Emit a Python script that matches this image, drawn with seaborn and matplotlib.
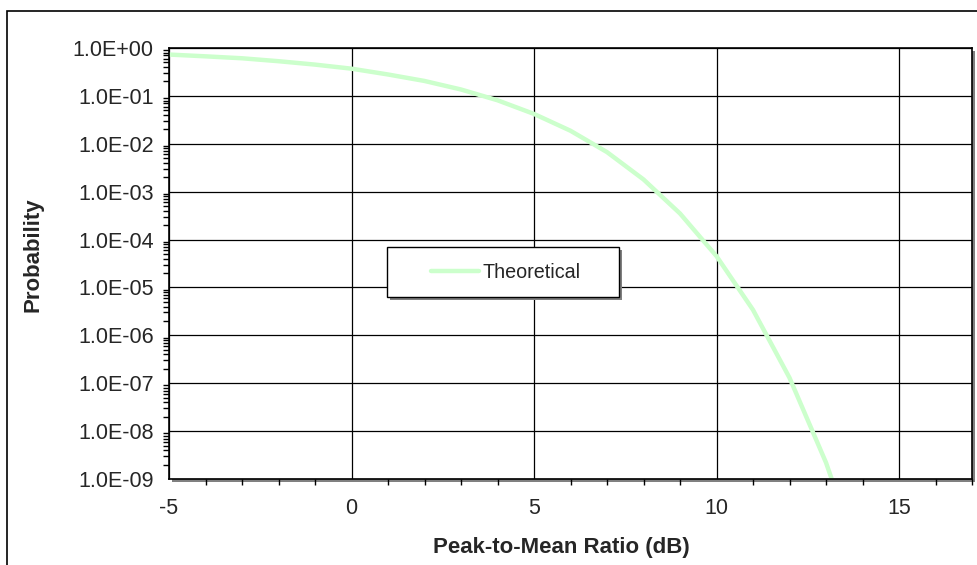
import numpy as np
import pandas as pd
import matplotlib
matplotlib.use("Agg")
import matplotlib.pyplot as plt
import matplotlib.ticker as mticker
from matplotlib.patches import Rectangle
import seaborn as sns

# values (piecewise linear between integer dB points)
ratio_db = [-5, -4, -3, -2, -1, 0, 1, 2, 3, 4, 5, 6, 7, 8, 9, 10, 11, 12, 13, 14]
probability = [0.73, 0.67, 0.61, 0.53, 0.45, 0.37, 0.28, 0.205, 0.136, 0.081,
               0.042, 0.0187, 0.0067, 0.0018, 3.5e-4, 4.5e-5, 3.4e-6, 1.3e-7,
               2.2e-9, 1.4e-11]
series_name = "Theoretical"

df = pd.DataFrame({"Ratio": ratio_db, "Probability": probability})

sns.set_style("white")
plt.rcParams['font.family'] = ['Liberation Sans', 'DejaVu Sans']
plt.rcParams['axes.unicode_minus'] = False

W, H = 977, 565
fig = plt.figure(figsize=(W / 100, H / 100), dpi=100)

def px_box(x0, y0, x1, y1):
    # pixel box (top-left origin) -> figure fraction [left, bottom, width, height]
    return [x0 / W, 1 - y1 / H, (x1 - x0) / W, (y1 - y0) / H]

# outer chart border
fig.patches.append(Rectangle((7 / W, -0.05), 1.1, 1 - 11 / H + 0.05, transform=fig.transFigure,
                             fill=False, edgecolor='black', linewidth=1.2, zorder=0))

ax_l, ax_t, ax_r, ax_b = 169, 48, 972, 479
# plot-area shadow
sb = px_box(ax_l + 3, ax_t + 3, ax_r + 3, ax_b + 3)
fig.patches.append(Rectangle((sb[0], sb[1]), sb[2], sb[3], transform=fig.transFigure,
                             facecolor='#808080', edgecolor='none', zorder=0.5))

ax = fig.add_axes(px_box(ax_l, ax_t, ax_r, ax_b))
ax.set_zorder(1)
ax.set_facecolor('white')

sns.lineplot(data=df, x="Ratio", y="Probability", ax=ax, color='#ccffcc',
             linewidth=3.2, label=series_name, legend=False)

ax.set_yscale('log')
ax.set_ylim(1e-9, 1)
ax.set_xlim(-5, 17)
ax.xaxis.set_major_locator(mticker.MultipleLocator(5))
ax.xaxis.set_minor_locator(mticker.MultipleLocator(1))
ax.yaxis.set_major_locator(mticker.LogLocator(base=10, numticks=20))
ax.yaxis.set_minor_locator(mticker.LogLocator(base=10, subs=np.arange(2, 10), numticks=20))
ax.yaxis.set_minor_formatter(mticker.NullFormatter())
ax.yaxis.set_major_formatter(mticker.FuncFormatter(lambda v, p: f"{v:.1E}"))

ax.grid(True, which='major', color='black', linewidth=0.9)
ax.set_axisbelow(True)
ax.tick_params(which='major', direction='out', length=5, width=1, color='black',
               labelsize=15.5)
ax.tick_params(which='minor', direction='out', length=4, width=1, color='black',
               bottom=True, left=True)
ax.tick_params(axis='x', pad=9)
ax.tick_params(axis='y', pad=6)
for s in ax.spines.values():
    s.set_color('black')
    s.set_linewidth(1.2)

ax.set_xlabel("")
ax.set_ylabel("")
fig.text(561 / W, 1 - 548 / H, "Peak-to-Mean Ratio (dB)", ha='center', va='center',
         fontsize=16, fontweight='bold')
fig.text(33 / W, 1 - 255 / H, "Probability", ha='center', va='center', rotation=90,
         fontsize=16, fontweight='bold')

# legend box with shadow
lb = px_box(387, 247, 619, 297)
lbs = px_box(390, 250, 622, 300)
fig.patches.append(Rectangle((lbs[0], lbs[1]), lbs[2], lbs[3], transform=fig.transFigure,
                             facecolor='#808080', edgecolor='none', zorder=5))
fig.patches.append(Rectangle((lb[0], lb[1]), lb[2], lb[3], transform=fig.transFigure,
                             facecolor='white', edgecolor='black', linewidth=1, zorder=6))
handles, labels = ax.get_legend_handles_labels()
leg = fig.legend(handles, labels, loc='center', bbox_to_anchor=(506 / W, 1 - 272 / H),
                 frameon=False, fontsize=14.2, handlelength=2.4, handletextpad=0.2)
leg.set_zorder(7)

fig.savefig("out.png", dpi=100)
